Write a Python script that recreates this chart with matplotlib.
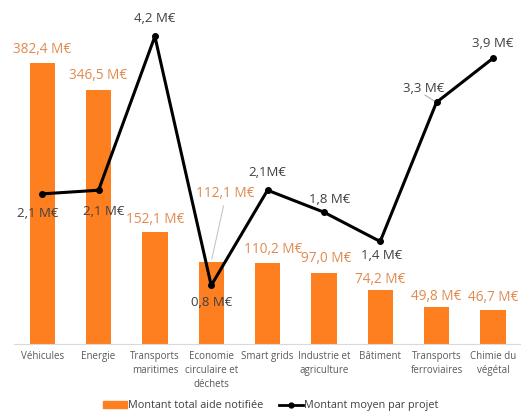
import matplotlib.pyplot as plt
import matplotlib.patches as mpatches
from matplotlib.lines import Line2D

plt.rcParams['font.family'] = ['Open Sans', 'DejaVu Sans']

# Data
categories = ['Véhicules', 'Energie', 'Transports\nmaritimes', 'Economie\ncirculaire et\ndéchets',
              'Smart grids', 'Industrie et\nagriculture', 'Bâtiment', 'Transports\nferroviaires',
              'Chimie du\nvégétal']
total_aide = [382.4, 346.5, 152.1, 112.1, 110.2, 97.0, 74.2, 49.8, 46.7]
total_labels = ['382,4 M€', '346,5 M€', '152,1 M€', '112,1 M€', '110,2 M€', '97,0 M€',
                '74,2 M€', '49,8 M€', '46,7 M€']
moyen = [2.05, 2.1, 4.2, 0.8, 2.1, 1.8, 1.4, 3.3, 3.9]
moyen_labels = ['2,1 M€', '2,1 M€', '4,2 M€', '0,8 M€', '2,1M€', '1,8 M€', '1,4 M€',
                '3,3 M€', '3,9 M€']

orange = '#FD7F20'
orange_txt = '#E08A4E'
dark_txt = '#404040'
tick_col = '#595959'

fig = plt.figure(figsize=(5.21, 4.12), dpi=100)
ax = fig.add_axes([0.027, 0.165, 0.973, 0.80])
x = list(range(len(categories)))

ax.bar(x, total_aide, width=0.45, color=orange, zorder=1)
ax.set_xlim(-0.5, 8.5)
ax.set_ylim(0, 449)
ax.set_yticks([])
for s in ['top', 'right', 'left']:
    ax.spines[s].set_visible(False)
ax.spines['bottom'].set_color('#D9D9D9')
ax.set_xticks(x)
ax.set_xticklabels(categories, fontsize=7, color=tick_col, linespacing=1.35)
ax.tick_params(axis='x', length=0, pad=5)

# bar labels (offsets in points)
bar_offsets = [(0, 10), (0, 10), (0, 9), (10, 49), (4, 10), (2, 10), (0, 7), (0, 8), (0, 9)]
for i, (v, lab) in enumerate(zip(total_aide, total_labels)):
    dx, dy = bar_offsets[i]
    ax.annotate(lab, (i, v), xytext=(dx, dy), textcoords='offset points',
                ha='center', va='center', fontsize=9.8, color=orange_txt, zorder=5)
# leader line for 112,1
ax.annotate('', xy=(3, total_aide[3]), xytext=(3.23, total_aide[3] + 80),
            arrowprops=dict(arrowstyle='-', color='#BFBFBF', lw=0.7))

ax2 = ax.twinx()
ax2.set_position(ax.get_position())
ax2.set_ylim(0, 4.5)
ax2.set_yticks([])
for s in ['top', 'right', 'left', 'bottom']:
    ax2.spines[s].set_visible(False)
ax2.plot(x, moyen, color='black', lw=2.2, marker='o', ms=4, zorder=3)

line_offsets = [(-3, -14), (4, -15), (0, 13), (0, -12), (0, 13), (4, 9), (1, -10), (-9, 10), (0, 11)]
for i, (v, lab) in enumerate(zip(moyen, moyen_labels)):
    dx, dy = line_offsets[i]
    ax2.annotate(lab, (i, v), xytext=(dx, dy), textcoords='offset points',
                 ha='center', va='center', fontsize=9.5, color=dark_txt, zorder=5)
ax2.annotate('', xy=(7, moyen[7]), xytext=(6.75, moyen[7] + 0.12),
             arrowprops=dict(arrowstyle='-', color='#A6A6A6', lw=0.7))

handles = [mpatches.Patch(color=orange, label='Montant total aide notifiée'),
           Line2D([0], [0], color='black', lw=2, marker='o', ms=3.5,
                  label='Montant moyen par projet')]
fig.legend(handles=handles, loc='center', bbox_to_anchor=(0.52, 0.015), ncol=2,
           frameon=False, fontsize=7.8, handlelength=2.2, handletextpad=0.1,
           columnspacing=1.5, labelcolor=dark_txt)

fig.savefig('out.png', dpi=100)
